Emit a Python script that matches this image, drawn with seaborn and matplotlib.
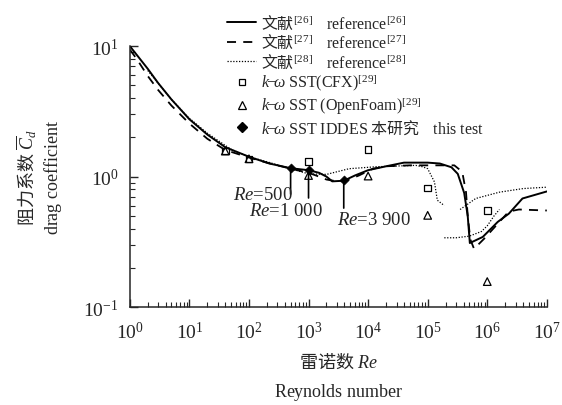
import numpy as np
import pandas as pd
import matplotlib
matplotlib.use("Agg")
import matplotlib.pyplot as plt
from matplotlib.lines import Line2D
import matplotlib.ticker as mticker
import seaborn as sns

# ---------------- data ----------------
ref26_re = [1, 2, 3, 5, 10, 20, 40, 100, 220, 500, 1000, 1500, 2000, 2500, 3900, 6000,
            1e4, 2e4, 4e4, 1e5, 1.6e5, 2.5e5, 3.2e5, 4.1e5, 4.7e5, 5.1e5, 8.4e5,
            1.5e6, 2.3e6, 3.9e6, 1e7]
ref26_cd = [10.0, 6.7, 5.2, 3.9, 2.75, 2.1, 1.68, 1.42, 1.26, 1.16, 1.12, 1.07, 1.0, 0.92,
            0.93, 1.02, 1.12, 1.2, 1.28, 1.28, 1.26, 1.18, 1.05, 0.75, 0.5, 0.31, 0.345,
            0.45, 0.52, 0.68, 0.77]

ref27_re = [1, 1.3, 2, 3, 5, 10, 20, 40, 100, 200, 500, 1000, 1500, 2000, 3000, 4000,
            7000, 1.2e4, 2e4, 5e4, 1e5, 2e5, 2.8e5, 3.8e5, 4.4e5, 4.7e5, 5.2e5, 6e5,
            8.9e5, 1.6e6, 2.3e6, 3.4e6, 1e7]
ref27_cd = [9.4, 8.0, 5.9, 4.6, 3.5, 2.55, 1.95, 1.6, 1.4, 1.28, 1.15, 1.07, 1.0, 0.95,
            0.92, 0.92, 1.02, 1.15, 1.2, 1.22, 1.22, 1.22, 1.22, 1.09, 0.76, 0.5, 0.33,
            0.28, 0.335, 0.45, 0.54, 0.56, 0.55]

ref28a_re = [2, 5, 10, 20, 50, 100, 200, 500, 1000, 2000, 4800, 1.35e4, 6.3e4, 8.2e4,
             1e5, 1.3e5, 1.45e5, 1.9e5]
ref28a_cd = [6.5, 3.9, 2.8, 2.15, 1.62, 1.42, 1.3, 1.15, 1.05, 1.04, 1.15, 1.19, 1.22,
             1.19, 1.15, 0.91, 0.66, 0.60]
ref28b_re = [3.5e5, 6.4e5, 1.6e6, 4e6, 1e7]
ref28b_cd = [0.56, 0.68, 0.76, 0.81, 0.83]
ref28c_re = [1.9e5, 3e5, 5e5, 8e5, 1e6, 1.3e6, 1.6e6]
ref28c_cd = [0.34, 0.34, 0.35, 0.38, 0.42, 0.50, 0.56]

cfx_re = [40, 100, 1000, 1e4, 1e5, 1e6]
cfx_cd = [1.57, 1.37, 1.31, 1.62, 0.82, 0.55]
of_re = [40, 100, 1000, 1e4, 1e5, 1e6]
of_cd = [1.57, 1.37, 1.02, 1.01, 0.505, 0.157]
iddes_re = [500, 1000, 3900]
iddes_cd = [1.17, 1.12, 0.937]
iddes_labels = [r"$Re$=500", r"$Re$=1 000", r"$Re$=3 900"]

legend_labels = [
    r"文献$^{\mathsf{[26]}}$    $\mathsf{reference}^{\mathsf{[26]}}$",
    r"文献$^{\mathsf{[27]}}$    $\mathsf{reference}^{\mathsf{[27]}}$",
    r"文献$^{\mathsf{[28]}}$    $\mathsf{reference}^{\mathsf{[28]}}$",
    r"$k\!\mathsf{-}\!\omega\ \mathsf{SST(CFX)}^{\mathsf{[29]}}$",
    r"$k\!\mathsf{-}\!\omega\ \mathsf{SST\ (OpenFoam)}^{\mathsf{[29]}}$",
    r"$k\!\mathsf{-}\!\omega\ \mathsf{SST\ IDDES}$ 本研究    $\mathsf{this\ test}$",
]
xlabel_text = "雷诺数 $Re$\n$\\mathsf{Reynolds\\ number}$"
ylabel_text = "阻力系数 $\\overline{C}_d$\n$\\mathsf{drag\\ coefficient}$"

# ---------------- style ----------------
sns.set_style("ticks")
plt.rcParams["font.family"] = ["Liberation Serif", "Noto Sans CJK SC"]
plt.rcParams["mathtext.fontset"] = "custom"
plt.rcParams["mathtext.rm"] = "Liberation Serif"
plt.rcParams["mathtext.sf"] = "Liberation Serif"
plt.rcParams["mathtext.it"] = "Liberation Serif:italic"
plt.rcParams["mathtext.bf"] = "Liberation Serif:bold"
CJK = ["Noto Sans CJK SC"]

fig = plt.figure(figsize=(5.62, 4.06), dpi=100)
ax = fig.add_axes([0.231, 0.241, 0.742, 0.643])

dash = (0, (5, 4))
dot = (0, (1, 1.3))

sns.lineplot(x=ref26_re, y=ref26_cd, ax=ax, color="black", lw=1.4, sort=False,
             estimator=None)
sns.lineplot(x=ref27_re, y=ref27_cd, ax=ax, color="black", lw=1.3, sort=False,
             estimator=None, linestyle=dash)
for rx, ry in [(ref28a_re, ref28a_cd), (ref28b_re, ref28b_cd), (ref28c_re, ref28c_cd)]:
    sns.lineplot(x=rx, y=ry, ax=ax, color="black", lw=0.9, sort=False,
                 estimator=None, linestyle=dot)

sns.scatterplot(x=cfx_re, y=cfx_cd, ax=ax, marker="s", s=22, facecolor="none",
                edgecolor="black", linewidth=0.9, zorder=5)
sns.scatterplot(x=of_re, y=of_cd, ax=ax, marker="^", s=30, facecolor="none",
                edgecolor="black", linewidth=0.9, zorder=5)
sns.scatterplot(x=iddes_re, y=iddes_cd, ax=ax, marker="D", s=22, color="black",
                edgecolor="black", zorder=6)

offsets = [(-20, -19), (-16.5, -29), (22, -28)]
line_len = [-19, -20, -20]
for re, cd, lab, off, ll in zip(iddes_re, iddes_cd, iddes_labels, offsets, line_len):
    ax.annotate("", xy=(re, cd), xytext=(0, ll), textcoords="offset points",
                arrowprops=dict(arrowstyle="-", color="black", lw=1.2,
                                shrinkA=0, shrinkB=0))
    ax.annotate(lab, xy=(re, cd), xytext=off, textcoords="offset points",
                ha="center", va="center", fontsize=13.5, family="Liberation Serif")

ax.set_xscale("log")
ax.set_yscale("log")
ax.set_xlim(1, 1e7)
ax.set_ylim(0.1, 10)
ax.set_xticks([10.0 ** k for k in range(8)])
ax.set_yticks([0.1, 1, 10])
fmt = mticker.FuncFormatter(lambda v, p: r"$\mathsf{10}^{\mathsf{%d}}$" % round(np.log10(v)))
ax.xaxis.set_major_formatter(fmt)
ax.yaxis.set_major_formatter(fmt)
ax.xaxis.set_minor_locator(mticker.LogLocator(base=10, subs=np.arange(2, 10), numticks=20))
ax.yaxis.set_minor_locator(mticker.LogLocator(base=10, subs=np.arange(2, 10), numticks=20))
ax.xaxis.set_minor_formatter(mticker.NullFormatter())
ax.yaxis.set_minor_formatter(mticker.NullFormatter())
ax.tick_params(which="major", direction="in", length=6, width=1, labelsize=14)
ax.tick_params(axis="x", which="major", pad=10)
ax.tick_params(axis="y", which="major", pad=8)
ax.tick_params(which="minor", direction="in", length=3.5, width=0.8)
for s in ["top", "right"]:
    ax.spines[s].set_visible(False)
for s in ["left", "bottom"]:
    ax.spines[s].set_linewidth(1.1)

ax.set_xlabel(xlabel_text, fontsize=13, linespacing=1.7, labelpad=6, family=CJK)
ax.set_ylabel(ylabel_text, fontsize=13, linespacing=1.2, labelpad=14, family=CJK)

handles = [
    Line2D([], [], color="black", lw=1.4),
    Line2D([], [], color="black", lw=1.3, linestyle=dash),
    Line2D([], [], color="black", lw=0.9, linestyle=dot),
    Line2D([], [], marker="s", ls="none", mfc="none", mec="black", ms=5, mew=0.9),
    Line2D([], [], marker="^", ls="none", mfc="none", mec="black", ms=5.5, mew=0.9),
    Line2D([], [], marker="D", ls="none", mfc="black", mec="black", ms=5),
]
fig.legend(handles, legend_labels, loc="upper left", bbox_to_anchor=(0.378, 1.0),
           frameon=False, handlelength=1.85, handletextpad=0.3,
           labelspacing=0.08, borderpad=0.4,
           prop={"family": CJK, "size": 11.5})

fig.savefig("out.png", dpi=100)
